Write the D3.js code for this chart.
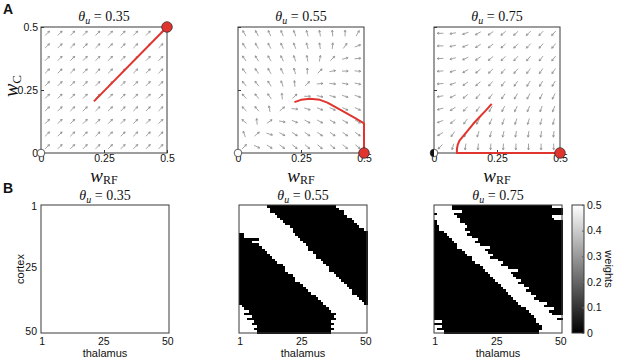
<!DOCTYPE html>
<html>
<head>
<meta charset="utf-8">
<script src="https://cdn.jsdelivr.net/npm/d3@7"></script>
<style>
  body { margin: 0; background: #fff; }
  svg text { font-family: "Liberation Sans", Arial, sans-serif; fill: #111; }
  .math { font-family: "Liberation Serif", "DejaVu Serif", serif; }
</style>
</head>
<body>
<div id="graphicContainer"></div>
<script>
// ---- data ----
const thetas = ['0.35', '0.55', '0.75'];
const tickW = [0, 0.25, 0.5];
const gridW = [0.025, 0.075, 0.125, 0.175, 0.225, 0.275, 0.325, 0.375, 0.425, 0.475];
const gridC = [0.475, 0.425, 0.375, 0.325, 0.275, 0.225, 0.175, 0.125, 0.075, 0.025];

// arrow direction in degrees (0 = right, 90 = up), rows top -> bottom
const arrowAngle35 = [
  [45,45,45,45,45,45,45,45,45,45],
  [45,45,45,45,45,45,45,45,45,45],
  [45,45,45,45,45,45,45,45,45,45],
  [45,45,45,45,45,45,45,45,45,45],
  [45,45,45,45,45,45,45,45,45,45],
  [45,45,45,45,45,45,45,45,45,45],
  [45,45,45,45,45,45,45,45,45,45],
  [45,45,45,45,45,45,45,45,45,45],
  [45,45,45,45,45,45,45,45,45,45],
  [45,45,45,45,45,45,45,45,45,45],
];
const arrowAngle55 = [
  [120,118,115,112,110,105,100,95,90,60],
  [122,120,117,114,110,105,98,85,55,20],
  [125,122,120,115,110,100,80,45,15,5],
  [127,125,120,115,105,90,45,10,0,-5],
  [130,127,122,110,95,45,5,-5,-10,-12],
  [132,130,125,95,45,0,-12,-15,-18,-18],
  [135,130,100,40,-5,-18,-22,-24,-25,-25],
  [140,95,35,-10,-22,-27,-28,-30,-30,-30],
  [110,40,-15,-28,-32,-34,-35,-35,-35,-35],
  [45,-25,-32,-36,-38,-40,-40,-40,-40,-40],
];
const arrowAngle75 = [
  [180,190,200,210,215,220,222,225,225,228],
  [180,192,202,212,218,222,225,226,228,230],
  [182,195,205,215,220,225,228,230,232,232],
  [185,198,210,220,225,228,230,232,235,235],
  [185,200,215,222,228,232,235,238,240,240],
  [190,205,220,228,232,236,240,242,244,245],
  [195,212,228,235,240,243,246,248,250,250],
  [200,220,235,242,246,250,252,254,255,256],
  [210,235,248,252,256,258,260,262,262,264],
  [225,255,262,265,267,268,268,270,270,270],
];

// trajectories [w_RF, w_C]
const traj35 = [[0.21, 0.205], [0.5, 0.5]];
const traj55 = [[0.224,0.202],[0.25,0.211],[0.286,0.215],[0.325,0.211],[0.355,0.2],[0.378,0.187],[0.405,0.172],[0.43,0.158],[0.465,0.138],[0.5,0.118],[0.5,0]];
const traj75 = [[0.229,0.195],[0.205,0.168],[0.18,0.142],[0.155,0.115],[0.134,0.089],[0.115,0.066],[0.101,0.049],[0.094,0.032],[0.091,0.016],[0.091,0],[0.5,0]];

// fixed points
const fixed35 = [{w: 0, c: 0, kind: 'unstable'}, {w: 0.5, c: 0.5, kind: 'stable'}];
const fixed55 = [{w: 0, c: 0, kind: 'unstable'}, {w: 0.5, c: 0, kind: 'stable'}];
const fixed75 = [{w: 0, c: 0, kind: 'half'}, {w: 0.5, c: 0, kind: 'stable'}];

// weight matrices (50 cortex x 50 thalamus), per-row band edges (columns, may wrap past 50)
const nUnits = 50;
const weightHigh = 0.5, weightLow = 0;
const black55Start = [12,13,13,15,16,17,18,19,21,22, 22,23,24,25,26,27,28,28,30,31, 31,33,34,35,36,36,38,39,40,41, 42,43,44,45,45,47,48,49,50,52, 53,55,53,56,54,57,56,58,57,58];
const black55End   = [38,39,41,41,42,44,45,46,47,49, 50,52,52,58,55,58,59,60,61,62, 63,64,65,67,68,68,69,71,72,72, 74,75,76,77,78,80,81,82,83,84, 85,86,88,87,88,86,87,86,87,86];
const white75Start = [-3,1,1,2,-3,-2,2,2,3,3, 5,6,7,8,9,10,10,12,13,14, 16,16,17,19,20,21,22,23,24,25, 26,27,28,29,30,31,32,33,34,35, 37,38,39,40,41,41,42,43,43,42];
const white75End   = [7,7,11,8,9,10,10,12,13,12, 14,13,15,17,16,18,22,20,21,23, 22,25,27,26,29,33,30,31,32,34, 33,35,37,36,38,40,39,41,44,43, 47,45,46,50,48,53,50,53,51,54];
const cellTicks = [1, 25, 50];
const colorTicks = [0, 0.1, 0.2, 0.3, 0.4, 0.5];

// ---- layout ----
const container = d3.select('#graphicContainer');
const Width = 617, Height = 361;
const svg = container.append('svg').attr('width', Width).attr('height', Height);
const red = '#e0352f', boxColor = '#3a3a3a';

const panelsA = [
  {l: 41, t: 27, angles: arrowAngle35, traj: traj35, fixed: fixed35},
  {l: 238, t: 27, angles: arrowAngle55, traj: traj55, fixed: fixed55},
  {l: 434, t: 27, angles: arrowAngle75, traj: traj75, fixed: fixed75},
];
const sizeA = 126;

function mathText(g, x, y, parts, anchor) {
  const t = g.append('text').attr('class', 'math').attr('x', x).attr('y', y)
    .attr('text-anchor', anchor || 'middle');
  parts.forEach(p => {
    t.append('tspan').text(p.t)
      .attr('font-style', p.it ? 'italic' : 'normal')
      .attr('font-size', p.size)
      .attr('dy', p.dy || 0);
  });
  return t;
}

function arrowPath(cx, cy, deg) {
  const len = 6.2, head = 2.2;
  const a = deg * Math.PI / 180;
  const ux = Math.cos(a), uy = -Math.sin(a);
  const tx = cx + ux * len / 2, ty = cy + uy * len / 2;
  const sx = cx - ux * len / 2, sy = cy - uy * len / 2;
  const h = s => {
    const b = a + Math.PI + s * 0.5;
    return [tx + Math.cos(b) * head, ty - Math.sin(b) * head];
  };
  const h1 = h(1), h2 = h(-1);
  return `M${sx},${sy}L${tx},${ty}M${h1[0]},${h1[1]}L${tx},${ty}L${h2[0]},${h2[1]}`;
}

panelsA.forEach((p, i) => {
  const g = svg.append('g').attr('class', 'panelA');
  const x = d3.scaleLinear().domain([0, 0.5]).range([p.l, p.l + sizeA]);
  const y = d3.scaleLinear().domain([0, 0.5]).range([p.t + sizeA, p.t]);

  // quiver
  const cells = [];
  p.angles.forEach((row, r) => row.forEach((ang, c) => cells.push({w: gridW[c], c: gridC[r], ang})));
  g.selectAll('.arrow').data(cells).enter().append('path')
    .attr('class', 'arrow')
    .attr('d', d => arrowPath(x(d.w), y(d.c), d.ang))
    .attr('fill', 'none').attr('stroke', '#8c8c8c').attr('stroke-width', 0.8);

  // axes
  const xAxis = d3.axisBottom(x).tickValues(tickW).tickSizeInner(-3).tickSizeOuter(0).tickPadding(1.5)
    .tickFormat(d => String(d));
  const xa = g.append('g').attr('transform', `translate(0,${p.t + sizeA})`).call(xAxis);
  const yAxis = d3.axisLeft(y).tickValues(tickW).tickSizeInner(-3).tickSizeOuter(0).tickPadding(3)
    .tickFormat(d => i === 0 ? String(d) : '');
  const ya = g.append('g').attr('transform', `translate(${p.l},0)`).call(yAxis);
  [xa, ya].forEach(a => {
    a.select('.domain').remove();
    a.selectAll('line').attr('stroke', boxColor);
    a.selectAll('text').attr('font-size', 10.5).attr('fill', '#111');
  });

  g.append('rect').attr('x', p.l).attr('y', p.t).attr('width', sizeA).attr('height', sizeA)
    .attr('fill', 'none').attr('stroke', boxColor).attr('stroke-width', 1);

  // trajectory
  const line = d3.line().x(d => x(d[0])).y(d => y(d[1]));
  g.append('path').datum(p.traj).attr('d', line)
    .attr('fill', 'none').attr('stroke', red).attr('stroke-width', 2).attr('stroke-linejoin', 'round');

  // fixed points
  p.fixed.forEach(f => {
    const cx = x(f.w), cy = y(f.c);
    if (f.kind === 'stable') {
      g.append('circle').attr('cx', cx).attr('cy', cy).attr('r', 5.3)
        .attr('fill', red).attr('stroke', '#222').attr('stroke-width', 0.7);
    } else {
      g.append('circle').attr('cx', cx).attr('cy', cy).attr('r', 3.8)
        .attr('fill', '#fff').attr('stroke', '#222').attr('stroke-width', 0.7);
      if (f.kind === 'half') {
        g.append('path')
          .attr('d', `M${cx},${cy - 3.8}A3.8,3.8 0 0 0 ${cx},${cy + 3.8}Z`)
          .attr('fill', '#111');
      }
    }
  });

  const mid = p.l + sizeA / 2;
  mathText(g, mid, 21, [
    {t: 'θ', it: true, size: 14}, {t: 'u', it: true, size: 10, dy: 3}, {t: ' = ' + thetas[i], size: 14, dy: -3}
  ]);
  mathText(g, mid, 181.5, [
    {t: 'w', it: true, size: 19}, {t: 'RF', size: 12, dy: 2}
  ]);
});

// y label of first panel
mathText(svg.append('g').attr('transform', 'translate(18,86) rotate(-90)'), 0, 0, [
  {t: 'w', it: true, size: 20}, {t: 'C', size: 13, dy: 3}
]);

// ---- panel B: weight matrices ----
function inBand(col, s, e) {
  return [col, col + nUnits, col - nUnits].some(v => v >= s && v <= e);
}
const units = d3.range(1, nUnits + 1);
const matrices = [
  (r, c) => weightHigh,
  (r, c) => inBand(c, black55Start[r - 1], black55End[r - 1]) ? weightLow : weightHigh,
  (r, c) => inBand(c, white75Start[r - 1], white75End[r - 1]) ? weightHigh : weightLow,
];
const panelsB = [{l: 41, t: 205}, {l: 239, t: 205}, {l: 434, t: 205}];
const sizeB = 128;
const colorFn = d3.scaleLinear().domain([0, 0.5]).range(['#000', '#fff']);

panelsB.forEach((p, i) => {
  const g = svg.append('g').attr('class', 'panelB');
  const x = d3.scaleBand().domain(units).range([p.l, p.l + sizeB]);
  const y = d3.scaleBand().domain(units).range([p.t, p.t + sizeB]);
  const cells = [];
  units.forEach(r => units.forEach(c => cells.push({r, c, v: matrices[i](r, c)})));
  g.selectAll('.cell').data(cells).enter().append('rect')
    .attr('class', 'cell')
    .attr('x', d => x(d.c)).attr('y', d => y(d.r))
    .attr('width', x.bandwidth() + 0.6).attr('height', y.bandwidth() + 0.6)
    .attr('shape-rendering', 'crispEdges')
    .attr('fill', d => colorFn(d.v));

  g.append('rect').attr('x', p.l).attr('y', p.t).attr('width', sizeB).attr('height', sizeB)
    .attr('fill', 'none').attr('stroke', boxColor).attr('stroke-width', 1);

  const xa = g.append('g').attr('transform', `translate(0,${p.t + sizeB})`)
    .call(d3.axisBottom(x).tickValues(cellTicks).tickSize(0).tickPadding(5));
  xa.select('.domain').remove();
  xa.selectAll('text').attr('font-size', 10.5).attr('fill', '#111');
  if (i === 0) {
    const ya = g.append('g').attr('transform', `translate(${p.l},0)`)
      .call(d3.axisLeft(y).tickValues(cellTicks).tickSize(0).tickPadding(4));
    ya.select('.domain').remove();
    ya.selectAll('text').attr('font-size', 10.5).attr('fill', '#111');
    g.append('text').attr('transform', `translate(24,${p.t + sizeB / 2}) rotate(-90)`)
      .attr('text-anchor', 'middle').attr('font-size', 11).text('cortex');
  }
  g.append('text').attr('x', p.l + sizeB / 2).attr('y', 357)
    .attr('text-anchor', 'middle').attr('font-size', 11).text('thalamus');

  mathText(g, p.l + sizeB / 2, 200, [
    {t: 'θ', it: true, size: 14}, {t: 'u', it: true, size: 10, dy: 3}, {t: ' = ' + thetas[i], size: 14, dy: -3}
  ]);
});

// colorbar
const defs = svg.append('defs');
const grad = defs.append('linearGradient').attr('id', 'cbar')
  .attr('x1', 0).attr('y1', 1).attr('x2', 0).attr('y2', 0);
grad.append('stop').attr('offset', '0%').attr('stop-color', colorFn(0));
grad.append('stop').attr('offset', '100%').attr('stop-color', colorFn(0.5));
const cb = {l: 572, t: 205, w: 12, h: 128};
const cy = d3.scaleLinear().domain([0, 0.5]).range([cb.t + cb.h, cb.t]);
svg.append('rect').attr('x', cb.l).attr('y', cb.t).attr('width', cb.w).attr('height', cb.h)
  .attr('fill', 'url(#cbar)').attr('stroke', boxColor).attr('stroke-width', 1);
const ca = svg.append('g').attr('transform', `translate(${cb.l + cb.w},0)`)
  .call(d3.axisRight(cy).tickValues(colorTicks).tickSizeInner(-2).tickSizeOuter(0).tickPadding(3).tickFormat(d => String(d)));
ca.select('.domain').remove();
ca.selectAll('line').attr('stroke', '#666');
ca.selectAll('text').attr('font-size', 10.5).attr('fill', '#111');
svg.append('text').attr('transform', `translate(605,${cb.t + cb.h / 2}) rotate(90)`)
  .attr('text-anchor', 'middle').attr('font-size', 11).text('weights');

// panel letters
svg.append('text').attr('x', 3).attr('y', 14).attr('font-size', 14).attr('font-weight', 'bold').text('A');
svg.append('text').attr('x', 3).attr('y', 193).attr('font-size', 14).attr('font-weight', 'bold').text('B');
</script>
</body>
</html>
